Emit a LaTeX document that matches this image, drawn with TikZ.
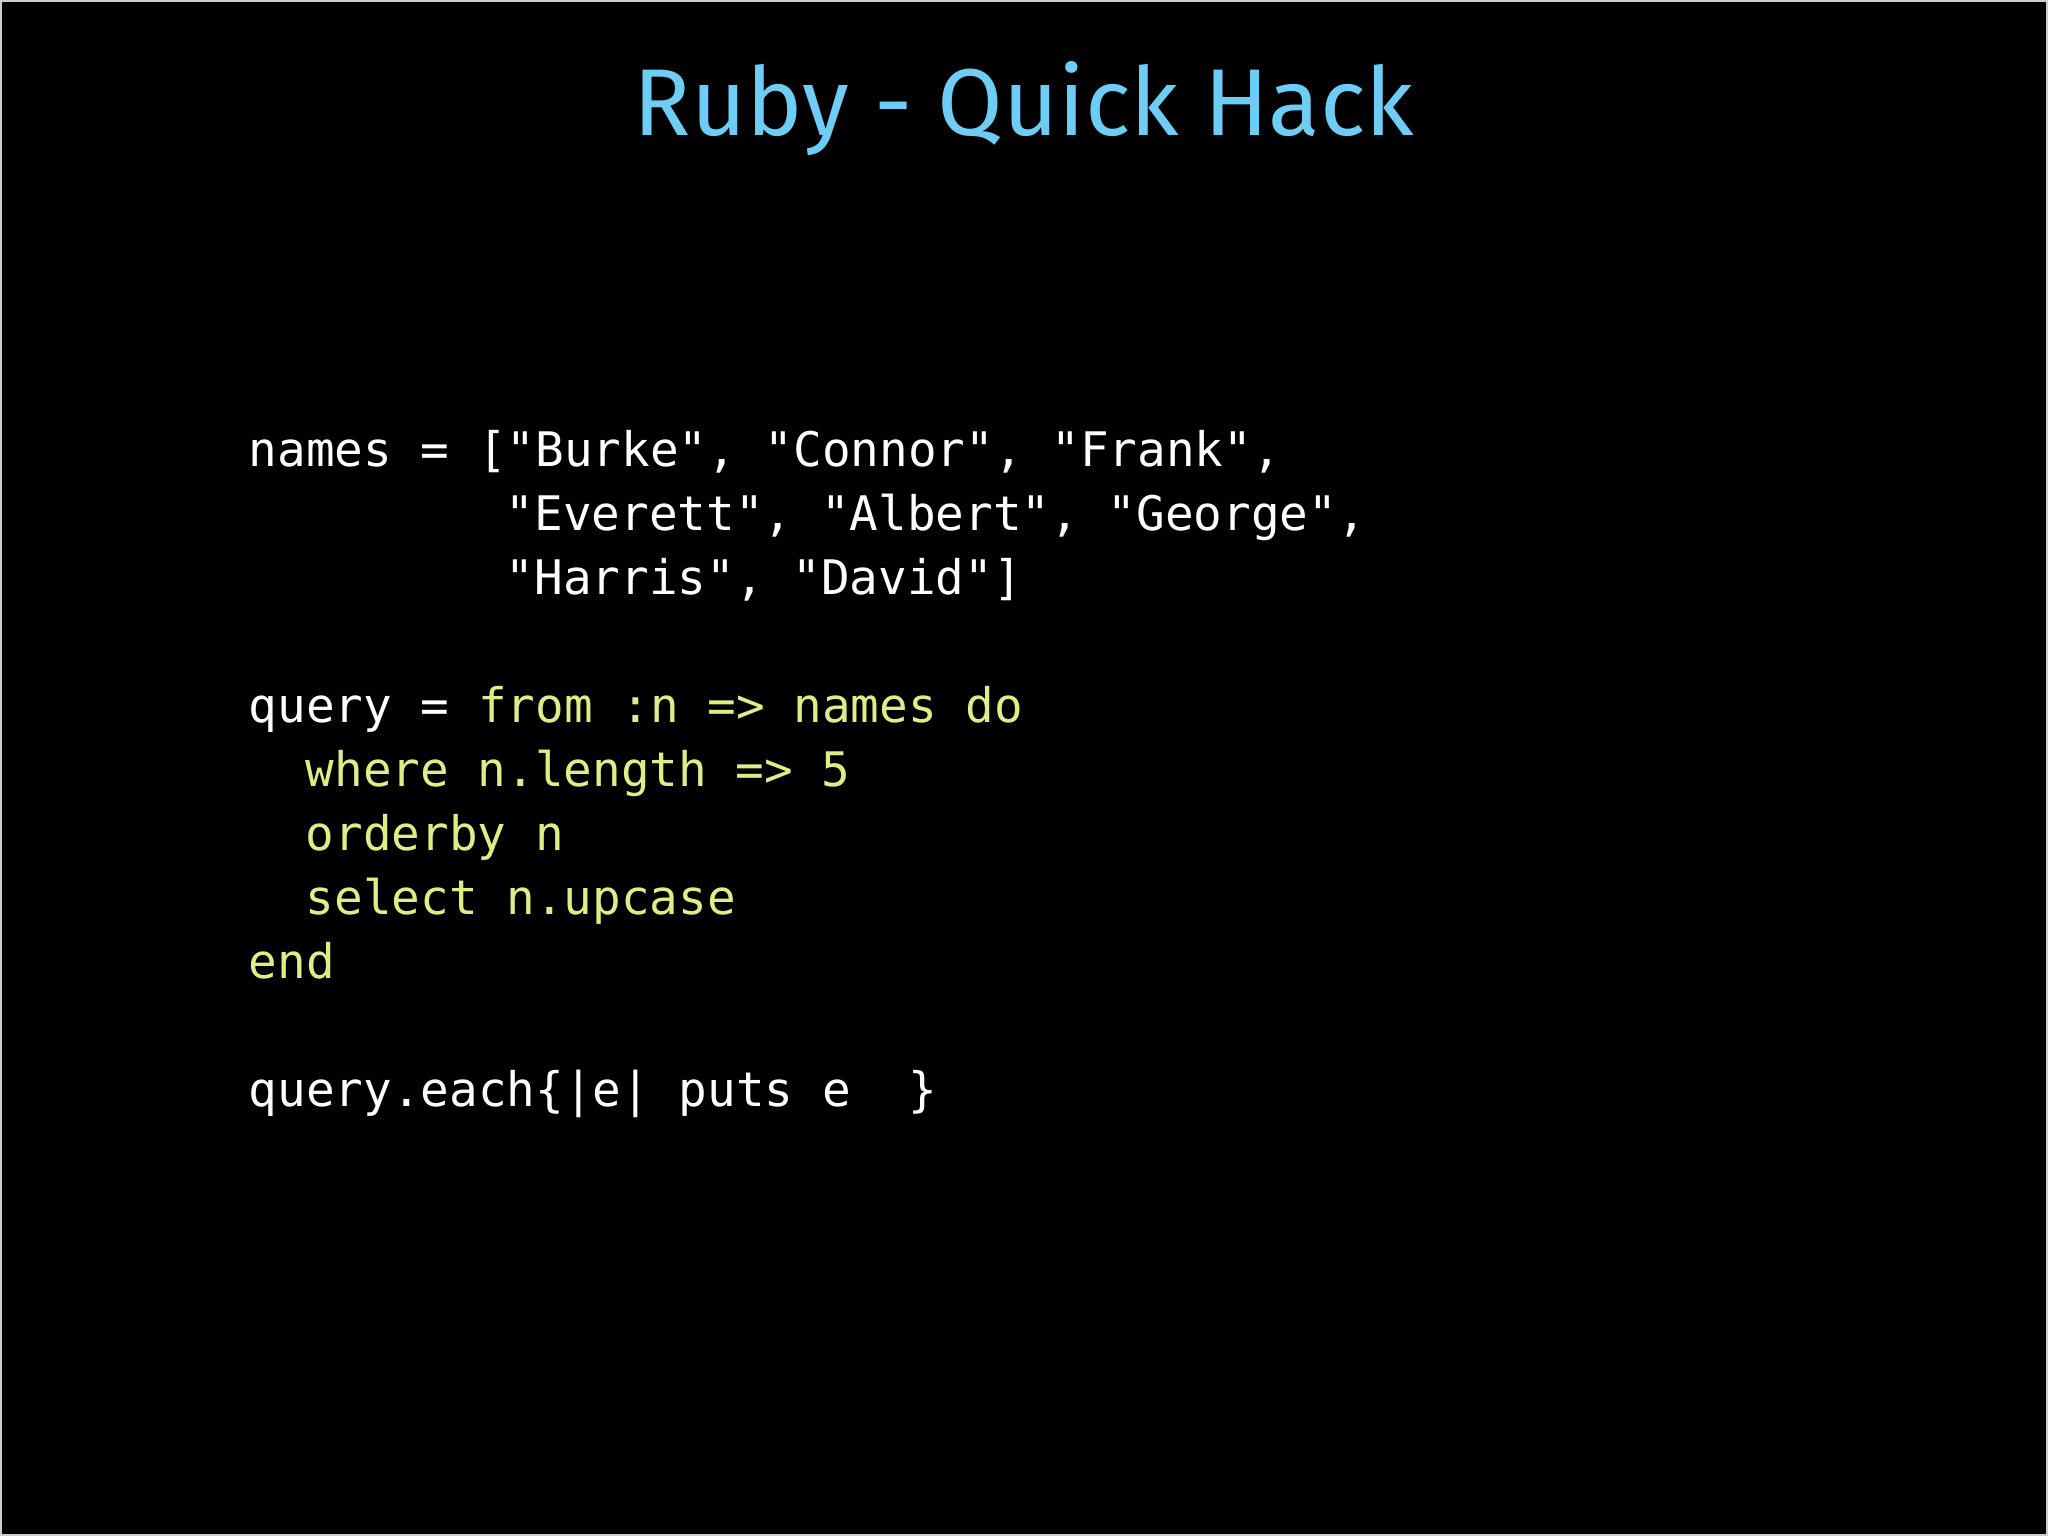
\documentclass[tikz,border=0pt]{standalone}
\usepackage{fontspec}
\setmainfont{Fira Sans}
\setmonofont{DejaVu Sans Mono}
\usetikzlibrary{positioning}
\definecolor{titleblue}{RGB}{110,205,245}
\definecolor{kwyellow}{RGB}{222,238,135}
\tikzset{
  codeline/.style={anchor=base west, inner sep=0pt, text=white,
    font=\fontsize{13.55pt}{16pt}\ttfamily},
  kw/.style={text=kwyellow}
}
\begin{document}
\begin{tikzpicture}
  \fill[black] (0,0) rectangle (20.48,15.36);
  \draw[gray!40, line width=0.4pt] (0.01,0.01) rectangle (20.47,15.35);
  \useasboundingbox (0,0) rectangle (20.48,15.36);
  % title
  \node (title) [anchor=base, text=titleblue, font=\fontsize{27pt}{32pt}\selectfont]
    at (10.24,14.0) {Ruby - Quick Hack};
  % code
  \node (names1) [codeline] at (2.48,10.69) {names = ["Burke", "Connor", "Frank",};
  \node (names2) [codeline] at (5.05,10.05) {"Everett", "Albert", "George",};
  \node (names3) [codeline] at (5.05,9.41) {"Harris", "David"]};
  \node (query) [codeline] at (2.48,8.13) {query = \textcolor{kwyellow}{from :n => names do}};
  \node (where) [codeline, kw] at (3.05,7.49) {where n.length => 5};
  \node (orderby) [codeline, kw] at (3.05,6.85) {orderby n};
  \node (select) [codeline, kw] at (3.05,6.21) {select n.upcase};
  \node (end) [codeline, kw] at (2.48,5.57) {end};
  \node (each) [codeline] at (2.48,4.29) {query.each\{|e| puts e\ \ \}};
\end{tikzpicture}
\end{document}
